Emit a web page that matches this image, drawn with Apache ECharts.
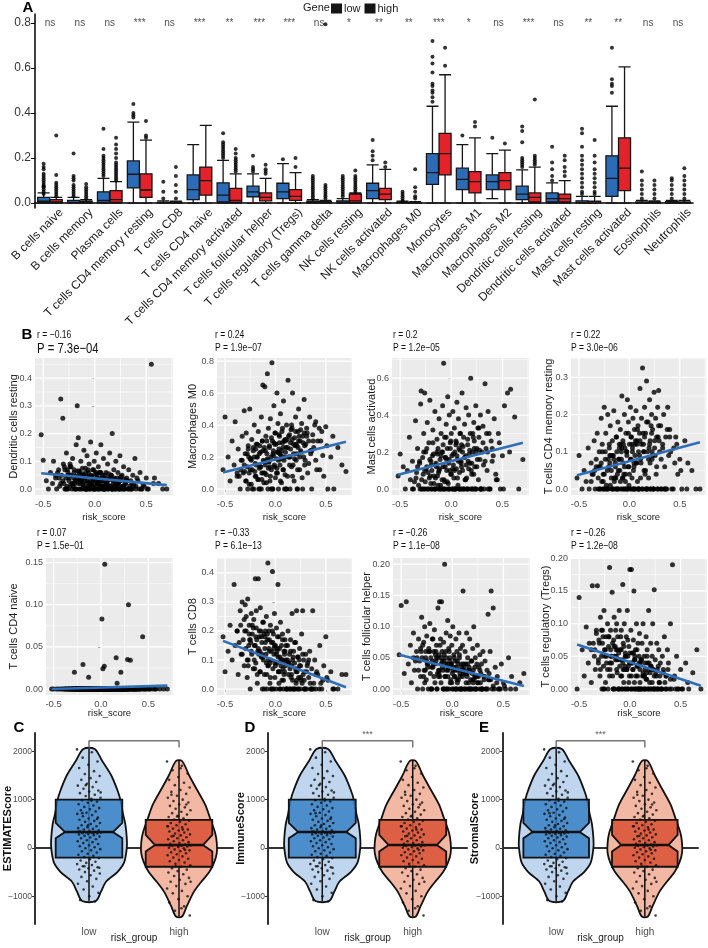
<!DOCTYPE html>
<html lang="en">
<head>
<meta charset="UTF-8" />
<title>Immune cell infiltration</title>
<script src="https://cdn.jsdelivr.net/npm/echarts@6.0.0/dist/echarts.min.js"></script>
<style>
  html, body { margin: 0; padding: 0; background: #fff; }
  #chart { width: 708px; height: 948px; }
</style>
</head>
<body>
<div id="chart"></div>
<script>
// ---------- panel A : CIBERSORT fractions by risk group ----------
const cellTypes = ["B cells naive", "B cells memory", "Plasma cells", "T cells CD4 memory resting", "T cells CD8",
  "T cells CD4 naive", "T cells CD4 memory activated", "T cells follicular helper", "T cells regulatory (Tregs)",
  "T cells gamma delta", "NK cells resting", "NK cells activated", "Macrophages M0", "Monocytes", "Macrophages M1",
  "Macrophages M2", "Dendritic cells resting", "Dendritic cells activated", "Mast cells resting",
  "Mast cells activated", "Eosinophils", "Neutrophils"];
const sigLabels = ["ns", "ns", "ns", "***", "ns", "***", "**", "***", "***", "ns", "*", "**", "**", "***", "*", "ns",
  "***", "ns", "**", "**", "ns", "ns"];
// [min, Q1, median, Q3, max]
const lowBox = [[0, 0.002, 0.008, 0.025, 0.045], [0, 0, 0.003, 0.012, 0.025], [0, 0.003, 0.012, 0.05, 0.11],
  [0, 0.067, 0.128, 0.187, 0.36], [0, 0, 0, 0.003, 0.01], [0, 0.015, 0.06, 0.125, 0.26], [0, 0.005, 0.035, 0.09, 0.19],
  [0, 0.028, 0.05, 0.075, 0.13], [0, 0.02, 0.05, 0.088, 0.175], [0, 0, 0.002, 0.008, 0.015], [0, 0, 0.003, 0.01, 0.02],
  [0, 0.02, 0.055, 0.088, 0.17], [0, 0, 0, 0.003, 0.008], [0, 0.083, 0.135, 0.22, 0.43], [0, 0.06, 0.105, 0.155, 0.26],
  [0.02, 0.06, 0.095, 0.125, 0.22], [0, 0.015, 0.04, 0.075, 0.147], [0, 0.005, 0.02, 0.045, 0.09],
  [0, 0, 0.002, 0.01, 0.03], [0, 0.03, 0.11, 0.21, 0.43], [0, 0, 0.001, 0.005, 0.012], [0, 0, 0.002, 0.006, 0.012]];
const highBox = [[0, 0.001, 0.005, 0.015, 0.025], [0, 0, 0.002, 0.008, 0.015], [0, 0.003, 0.015, 0.055, 0.095],
  [0, 0.025, 0.058, 0.13, 0.28], [0, 0, 0, 0.003, 0.008], [0, 0.035, 0.1, 0.16, 0.345], [0, 0.003, 0.012, 0.065, 0.13],
  [0, 0.01, 0.025, 0.045, 0.11], [0, 0.012, 0.03, 0.06, 0.135], [0, 0, 0.001, 0.006, 0.012], [0, 0.002, 0.01, 0.04, 0.045],
  [0, 0.015, 0.04, 0.065, 0.15], [0, 0, 0, 0.002, 0.006], [0, 0.125, 0.22, 0.31, 0.57], [0, 0.045, 0.095, 0.14, 0.29],
  [0, 0.06, 0.1, 0.135, 0.235], [0, 0.005, 0.025, 0.045, 0.16], [0, 0.005, 0.02, 0.04, 0.1], [0, 0, 0.001, 0.008, 0.03],
  [0, 0.055, 0.155, 0.29, 0.605], [0, 0, 0.001, 0.004, 0.01], [0, 0, 0.002, 0.005, 0.012]];
const lowOutliers = [
  [0.04, 0.05, 0.06, 0.07, 0.075, 0.08, 0.09, 0.1, 0.11, 0.12, 0.13, 0.15, 0.16, 0.175],
  [0.03, 0.04, 0.05, 0.06, 0.07, 0.08, 0.1, 0.11, 0.12, 0.22],
  [0.12, 0.13, 0.14, 0.15, 0.16, 0.17, 0.18, 0.19, 0.2, 0.21, 0.24, 0.33],
  [0.38, 0.39, 0.4, 0.44], [0.02, 0.05, 0.095], [],
  [0.2, 0.21, 0.22, 0.23, 0.24, 0.25, 0.26, 0.27, 0.31], [0.14, 0.15, 0.16, 0.21], [0.195],
  [0.02, 0.03, 0.04, 0.05, 0.06, 0.07, 0.08, 0.09, 0.1, 0.11, 0.12],
  [0.03, 0.04, 0.05, 0.06, 0.07, 0.08, 0.09, 0.1, 0.11, 0.12],
  [0.19, 0.21, 0.23, 0.28], [0.01, 0.02, 0.03, 0.04, 0.05],
  [0.45, 0.47, 0.49, 0.5, 0.52, 0.53, 0.58, 0.62, 0.65, 0.72], [0.3], [0.29],
  [0.16, 0.17, 0.18, 0.19, 0.2, 0.27, 0.32, 0.34], [0.1, 0.12, 0.15, 0.18, 0.25],
  [0.04, 0.05, 0.07, 0.09, 0.11, 0.13, 0.15, 0.17, 0.19, 0.21, 0.25, 0.31, 0.33],
  [0.49, 0.52, 0.53, 0.55, 0.69], [0.02, 0.04, 0.06, 0.08, 0.1, 0.14], [0.02, 0.04, 0.06, 0.08, 0.1, 0.11]];
const highOutliers = [
  [0.03, 0.04, 0.05, 0.06, 0.07, 0.08, 0.09, 0.125, 0.3], [0.02, 0.03, 0.04, 0.05, 0.06, 0.07, 0.085],
  [0.1, 0.11, 0.12, 0.13, 0.14, 0.15, 0.16, 0.17, 0.18, 0.2, 0.22, 0.24, 0.26, 0.29],
  [0.29, 0.3, 0.365], [0.02, 0.05, 0.08, 0.12, 0.16], [],
  [0.14, 0.15, 0.16, 0.17, 0.18, 0.19, 0.2, 0.22, 0.24], [0.13, 0.14, 0.15, 0.17], [0.16, 0.2],
  [0.02, 0.03, 0.04, 0.05, 0.06, 0.07, 0.08, 0.795], [0.05, 0.06, 0.07, 0.08, 0.09, 0.1, 0.11, 0.12, 0.145],
  [0.16, 0.18], [0.02, 0.03, 0.05, 0.07, 0.15], [0.61, 0.69], [0.34, 0.36], [0.265],
  [0.17, 0.18, 0.19, 0.2, 0.21, 0.46], [0.12, 0.14, 0.16, 0.19, 0.21],
  [0.04, 0.05, 0.07, 0.09, 0.11, 0.13, 0.15, 0.18, 0.21, 0.28], [],
  [0.02, 0.04, 0.06, 0.08, 0.1], [0.02, 0.04, 0.06, 0.08, 0.1, 0.12, 0.155]];

// ---------- panel B : correlation with risk score (one value per sample) ----------
const riskScore = [-0.52, -0.50, -0.47, -0.45, -0.43, -0.41, -0.40, -0.38, -0.37, -0.35, -0.34, -0.33, -0.32, -0.31,
  -0.30, -0.295, -0.29, -0.28, -0.275, -0.27, -0.26, -0.255, -0.25, -0.24, -0.235, -0.23, -0.22, -0.215, -0.21, -0.20,
  -0.195, -0.19, -0.18, -0.175, -0.17, -0.16, -0.155, -0.15, -0.14, -0.135, -0.13, -0.125, -0.12, -0.115, -0.11, -0.105, -0.10,
  -0.095, -0.09, -0.085, -0.08, -0.075, -0.07, -0.065, -0.06, -0.055, -0.05, -0.045, -0.04, -0.035, -0.03, -0.025, -0.02,
  -0.015, -0.01, -0.005, 0, 0.005, 0.01, 0.015, 0.02, 0.025, 0.03, 0.035, 0.04, 0.045, 0.05, 0.055, 0.06, 0.065, 0.07,
  0.075, 0.08, 0.085, 0.09, 0.095, 0.10,
  0.105, 0.11, 0.12, 0.125, 0.13, 0.14, 0.145, 0.15, 0.16, 0.165, 0.17, 0.18, 0.185, 0.19, 0.20, 0.205, 0.21, 0.22, 0.225,
  0.23, 0.24, 0.245, 0.25, 0.26, 0.265, 0.27, 0.28, 0.285, 0.29, 0.30,
  0.31, 0.32, 0.33, 0.34, 0.35, 0.36, 0.37, 0.38, 0.39, 0.40, 0.42, 0.44, 0.46, 0.48, 0.50, 0.52, 0.55, 0.58, 0.62, 0.66, 0.70,
  -0.38, -0.33, -0.29, -0.27, -0.25, -0.23, -0.21, -0.2, -0.19, -0.18,
  -0.17, -0.16, -0.15, -0.14, -0.13, -0.12, -0.11, -0.1, -0.09, -0.08,
  -0.07, -0.06, -0.05, -0.04, -0.03, -0.02, -0.01, 0.0, 0.01, 0.02,
  0.03, 0.04, 0.05, 0.06, 0.07, 0.08, 0.09, 0.1, 0.11, 0.12,
  0.13, 0.14, 0.15, 0.16, 0.17, 0.18, 0.19, 0.2, 0.21, 0.22,
  0.23, 0.24, 0.25, 0.27, 0.29, 0.31, 0.33, 0.36, 0.4, 0.45,
  -0.36, -0.31, -0.28, -0.26, -0.24, -0.22, -0.205, -0.185, -0.165, -0.145,
  -0.125, -0.105, -0.085, -0.065, -0.045, -0.025, -0.005, 0.015, 0.035, 0.055,
  0.075, 0.095, 0.115, 0.135, 0.155, 0.175, 0.195, 0.215, 0.235, 0.255,
  0.275, 0.295, 0.315, 0.345, 0.375, 0.41, 0.435, 0.47, 0.51, 0.57,
  -0.345, -0.265, -0.195, -0.135, -0.075, -0.015, 0.045, 0.105, 0.165, 0.225,
  0.285, 0.355, -0.305, -0.245, -0.155, -0.055, 0.025, 0.085, 0.145, 0.205];
const dcResting = [0.196, 0.104, 0.03, 0.0, 0.06, 0.02, 0.1, 0.04, 0.0, 0.07, 0.01, 0.325, 0.05, 0.255,
  0.02, 0.08, 0.0, 0.04, 0.13, 0.01, 0.06, 0.0, 0.03, 0.09, 0.015, 0.05, 0.0, 0.11, 0.02, 0.07, 0.0, 0.045, 0.16, 0.03,
  0.30, 0.185, 0.0, 0.06, 0.02, 0.1, 0.035, 0.0, 0.075, 0.015, 0.05, 0.14, 0.0,
  0.03, 0.0, 0.06, 0.02, 0.12, 0.0, 0.045, 0.01, 0.09, 0.025, 0.0, 0.17, 0.05, 0.015, 0.0, 0.07, 0.035, 0.0, 0.1, 0.02,
  0.055, 0.0, 0.13, 0.01, 0.04, 0.0, 0.08, 0.025, 0.0, 0.06, 0.015, 0.16, 0.03, 0.0, 0.05, 0.01, 0.11, 0.0, 0.04, 0.02,
  0.0, 0.06, 0.02, 0.09, 0.0, 0.04, 0.13, 0.01, 0.05, 0.0, 0.2, 0.03, 0.07, 0.0, 0.015, 0.1, 0.0, 0.04, 0.06, 0.02,
  0.0, 0.12, 0.03, 0.0, 0.05, 0.01, 0.08, 0.0, 0.035, 0.02,
  0.04, 0.0, 0.07, 0.01, 0.03, 0.0, 0.05, 0.02, 0.11, 0.0, 0.03, 0.06, 0.0, 0.01, 0.04, 0.0, 0.45, 0.04, 0.02, 0.0, 0.0,
  0.05, 0.02, 0.07, 0.0, 0.04, 0.08, 0.01, 0.06, 0.03, 0.0,
  0.045, 0.02, 0.065, 0.0, 0.03, 0.055, 0.01, 0.04, 0.075, 0.0,
  0.03, 0.06, 0.0, 0.02, 0.045, 0.01, 0.07, 0.0, 0.035, 0.05,
  0.02, 0.0, 0.04, 0.06, 0.01, 0.03, 0.0, 0.05, 0.015, 0.025,
  0.0, 0.035, 0.01, 0.05, 0.0, 0.02, 0.04, 0.0, 0.03, 0.01,
  0.02, 0.0, 0.04, 0.01, 0.0, 0.03, 0.0, 0.02, 0.01, 0.0,
  0.06, 0.03, 0.0, 0.05, 0.08, 0.02, 0.04, 0.0, 0.065, 0.035,
  0.025, 0.05, 0.0, 0.07, 0.015, 0.04, 0.0, 0.06, 0.03, 0.01,
  0.04, 0.0, 0.025, 0.055, 0.01, 0.0, 0.035, 0.02, 0.0, 0.045,
  0.0, 0.02, 0.03, 0.0, 0.01, 0.04, 0.0, 0.015, 0.0, 0.02,
  0.04, 0.07, 0.02, 0.05, 0.0, 0.03, 0.06, 0.01, 0.0, 0.025,
  0.01, 0.0, 0.09, 0.05, 0.03, 0.045, 0.02, 0.0, 0.035, 0.015];
const macM0 = [0.12, 0.45, 0.2, 0.05, 0.3, 0.15, 0.42, 0.08, 0.25, 0.0, 0.18, 0.33, 0.1, 0.49,
  0.22, 0.05, 0.35, 0.14, 0.0, 0.27, 0.1, 0.5, 0.19, 0.03, 0.31, 0.12, 0.24, 0.0, 0.4, 0.16, 0.08, 0.28, 0.2, 0.06,
  0.36, 0.13, 0.0, 0.23, 0.45, 0.1, 0.3, 0.65, 0.18, 0.04, 0.26, 0.64, 0.15,
  0.33, 0.09, 0.22, 0.72, 0.0, 0.38, 0.17, 0.27, 0.05, 0.44, 0.2, 0.12, 0.79, 0.3, 0.0, 0.24, 0.52, 0.14, 0.35, 0.07,
  0.28, 0.19, 0.6, 0.1, 0.41, 0.0, 0.25, 0.33, 0.15, 0.47, 0.21, 0.04, 0.36, 0.29, 0.12, 0.55, 0.18, 0.0, 0.31, 0.23,
  0.26, 0.4, 0.08, 0.68, 0.2, 0.34, 0.0, 0.29, 0.14, 0.38, 0.6, 0.22, 0.05, 0.32, 0.45, 0.18, 0.27, 0.0, 0.36, 0.5,
  0.12, 0.3, 0.24, 0.41, 0.07, 0.33, 0.2, 0.56, 0.15, 0.28,
  0.38, 0.1, 0.3, 0.45, 0.22, 0.0, 0.34, 0.26, 0.4, 0.18, 0.3, 0.12, 0.36, 0.08, 0.39, 0.0, 0.2, 0.0, 0.26, 0.15, 0.11,
  0.1, 0.18, 0.05, 0.25, 0.12, 0.0, 0.2, 0.08, 0.15, 0.28,
  0.06, 0.22, 0.14, 0.0, 0.3, 0.1, 0.17, 0.24, 0.04, 0.19,
  0.13, 0.26, 0.08, 0.32, 0.0, 0.21, 0.15, 0.35, 0.1, 0.23,
  0.18, 0.29, 0.05, 0.24, 0.38, 0.12, 0.2, 0.3, 0.0, 0.26,
  0.33, 0.15, 0.25, 0.4, 0.08, 0.28, 0.19, 0.36, 0.22, 0.12,
  0.3, 0.2, 0.37, 0.0, 0.27, 0.33, 0.16, 0.24, 0.42, 0.3,
  0.08, 0.15, 0.22, 0.03, 0.18, 0.26, 0.11, 0.2, 0.0, 0.14,
  0.24, 0.1, 0.3, 0.17, 0.0, 0.22, 0.28, 0.13, 0.34, 0.19,
  0.26, 0.09, 0.31, 0.2, 0.37, 0.15, 0.27, 0.0, 0.33, 0.23,
  0.29, 0.18, 0.35, 0.24, 0.3, 0.12, 0.38, 0.21, 0.27, 0.33,
  0.12, 0.2, 0.25, 0.06, 0.18, 0.29, 0.22, 0.0, 0.31, 0.26,
  0.35, 0.24, 0.11, 0.19, 0.27, 0.14, 0.23, 0.3, 0.2, 0.28];
const mastActivated = [0.07, 0.19, 0.12, 0.0, 0.1, 0.28, 0.05, 0.15, 0.0, 0.37, 0.09, 0.22, 0.02, 0.14,
  0.46, 0.53, 0.0, 0.17, 0.08, 0.3, 0.52, 0.04, 0.2, 0.12, 0.36, 0.0, 0.25, 0.06, 0.48, 0.15, 0.0, 0.1, 0.32, 0.19,
  0.03, 0.42, 0.0, 0.13, 0.27, 0.07, 0.22, 0.0, 0.38, 0.11, 0.16, 0.02, 0.3,
  0.2, 0.0, 0.45, 0.12, 0.68, 0.05, 0.28, 0.17, 0.0, 0.35, 0.1, 0.22, 0.5, 0.03, 0.14, 0.4, 0.0, 0.25, 0.08, 0.3,
  0.18, 0.0, 0.42, 0.13, 0.06, 0.33, 0.2, 0.0, 0.26, 0.11, 0.47, 0.16, 0.02, 0.38, 0.22, 0.09, 0.3, 0.0, 0.15, 0.24,
  0.52, 0.1, 0.28, 0.0, 0.35, 0.18, 0.44, 0.06, 0.24, 0.0, 0.4, 0.14, 0.3, 0.6, 0.08, 0.2, 0.0, 0.36, 0.26, 0.12,
  0.45, 0.0, 0.22, 0.33, 0.05, 0.28, 0.16, 0.4, 0.0, 0.2,
  0.34, 0.0, 0.57, 0.22, 0.1, 0.42, 0.3, 0.0, 0.26, 0.15, 0.38, 0.05, 0.3, 0.0, 0.18, 0.45, 0.52, 0.54, 0.39, 0.0, 0.16,
  0.0, 0.12, 0.05, 0.2, 0.0, 0.09, 0.16, 0.03, 0.0, 0.25,
  0.07, 0.0, 0.14, 0.2, 0.02, 0.1, 0.0, 0.18, 0.05, 0.24,
  0.0, 0.12, 0.28, 0.04, 0.0, 0.16, 0.22, 0.08, 0.0, 0.19,
  0.1, 0.0, 0.25, 0.06, 0.15, 0.0, 0.3, 0.12, 0.2, 0.0,
  0.17, 0.05, 0.0, 0.27, 0.11, 0.21, 0.0, 0.14, 0.3, 0.08,
  0.0, 0.2, 0.12, 0.33, 0.0, 0.25, 0.15, 0.0, 0.22, 0.05,
  0.04, 0.15, 0.0, 0.1, 0.22, 0.0, 0.07, 0.18, 0.0, 0.12,
  0.09, 0.0, 0.2, 0.04, 0.16, 0.0, 0.26, 0.11, 0.0, 0.18,
  0.0, 0.14, 0.23, 0.05, 0.0, 0.19, 0.1, 0.28, 0.0, 0.16,
  0.21, 0.0, 0.13, 0.3, 0.0, 0.18, 0.08, 0.25, 0.0, 0.2,
  0.06, 0.0, 0.13, 0.19, 0.0, 0.1, 0.24, 0.0, 0.15, 0.22,
  0.0, 0.2, 0.0, 0.11, 0.06, 0.17, 0.0, 0.21, 0.13, 0.0];
const cd4MemResting = [0.03, 0.09, 0.0, 0.05, 0.02, 0.11, 0.0, 0.07, 0.04, 0.13, 0.0, 0.08, 0.15, 0.03,
  0.1, 0.0, 0.06, 0.19, 0.02, 0.12, 0.04, 0.0, 0.22, 0.08, 0.15, 0.01, 0.05, 0.2, 0.0, 0.11, 0.07, 0.17, 0.03, 0.0,
  0.13, 0.09, 0.21, 0.02, 0.06, 0.0, 0.14, 0.1, 0.04, 0.18, 0.0, 0.08, 0.12,
  0.05, 0.16, 0.0, 0.1, 0.25, 0.03, 0.13, 0.07, 0.0, 0.2, 0.11, 0.04, 0.15, 0.0, 0.09, 0.24, 0.06, 0.18, 0.01, 0.12,
  0.0, 0.22, 0.08, 0.14, 0.03, 0.1, 0.19, 0.0, 0.06, 0.16, 0.12, 0.0, 0.21, 0.07, 0.13, 0.02, 0.17, 0.1, 0.0, 0.15,
  0.27, 0.08, 0.19, 0.0, 0.325, 0.12, 0.05, 0.22, 0.15, 0.0, 0.29, 0.1, 0.18, 0.03, 0.24, 0.13, 0.0, 0.2, 0.08, 0.16,
  0.0, 0.26, 0.11, 0.19, 0.04, 0.14, 0.22, 0.0, 0.265, 0.1,
  0.17, 0.0, 0.12, 0.2, 0.06, 0.14, 0.0, 0.22, 0.09, 0.16, 0.0, 0.11, 0.14, 0.04, 0.08, 0.0, 0.13, 0.07, 0.05, 0.0, 0.0,
  0.02, 0.06, 0.0, 0.1, 0.04, 0.0, 0.08, 0.12, 0.01, 0.05,
  0.09, 0.0, 0.03, 0.07, 0.14, 0.0, 0.05, 0.11, 0.02, 0.08,
  0.0, 0.12, 0.06, 0.02, 0.1, 0.0, 0.15, 0.04, 0.08, 0.0,
  0.11, 0.05, 0.0, 0.13, 0.07, 0.16, 0.0, 0.09, 0.03, 0.12,
  0.0, 0.1, 0.14, 0.05, 0.18, 0.0, 0.08, 0.12, 0.0, 0.15,
  0.09, 0.0, 0.13, 0.06, 0.17, 0.0, 0.11, 0.0, 0.14, 0.07,
  0.04, 0.0, 0.07, 0.02, 0.1, 0.0, 0.06, 0.09, 0.0, 0.03,
  0.0, 0.08, 0.12, 0.03, 0.0, 0.1, 0.06, 0.14, 0.0, 0.09,
  0.12, 0.0, 0.07, 0.15, 0.04, 0.0, 0.11, 0.17, 0.0, 0.09,
  0.0, 0.13, 0.08, 0.0, 0.16, 0.1, 0.0, 0.12, 0.05, 0.0,
  0.05, 0.0, 0.09, 0.03, 0.11, 0.0, 0.07, 0.13, 0.0, 0.1,
  0.14, 0.0, 0.06, 0.0, 0.08, 0.04, 0.12, 0.0, 0.1, 0.07];
const cd4Naive = [0, 0, 0, 0, 0, 0, 0, 0, 0, 0, 0, 0, 0, 0,
  0, 0, 0, 0.02, 0, 0, 0, 0, 0, 0, 0, 0, 0, 0, 0, 0, 0, 0.029, 0, 0, 0, 0, 0, 0, 0, 0, 0.014, 0, 0, 0, 0, 0, 0,
  0, 0, 0, 0, 0, 0, 0, 0, 0, 0, 0, 0, 0, 0, 0, 0, 0, 0, 0, 0, 0, 0.083, 0, 0.024, 0, 0, 0.027, 0.148, 0, 0,
  0, 0, 0, 0, 0, 0, 0, 0, 0, 0,
  0, 0, 0, 0, 0, 0, 0, 0, 0.037, 0, 0.007, 0, 0, 0, 0, 0, 0.02, 0, 0, 0, 0, 0, 0, 0, 0, 0, 0.035, 0, 0.1, 0,
  0.034, 0, 0, 0, 0, 0, 0, 0, 0, 0, 0, 0.062, 0, 0, 0, 0, 0, 0, 0, 0, 0,
  0, 0, 0, 0, 0, 0, 0, 0, 0, 0,
  0, 0, 0, 0, 0, 0, 0, 0, 0, 0,
  0, 0, 0, 0, 0, 0, 0, 0, 0, 0,
  0, 0, 0, 0, 0, 0, 0, 0, 0, 0,
  0, 0, 0, 0, 0, 0, 0, 0, 0, 0,
  0, 0, 0, 0, 0, 0, 0, 0, 0, 0,
  0, 0, 0, 0, 0, 0, 0, 0, 0, 0,
  0, 0, 0, 0, 0, 0, 0, 0, 0, 0,
  0, 0, 0, 0, 0, 0, 0, 0, 0, 0,
  0, 0, 0, 0, 0, 0, 0, 0, 0, 0,
  0, 0, 0, 0, 0, 0, 0, 0, 0, 0,
  0, 0, 0, 0, 0, 0, 0, 0, 0, 0];
const cd8 = [0.18, 0.06, 0.13, 0.22, 0.1, 0.36, 0.15, 0.2, 0.05, 0.27, 0.12, 0.3, 0.17, 0.08,
  0.29, 0.14, 0.2, 0.04, 0.31, 0.1, 0.22, 0.17, 0.0, 0.26, 0.12, 0.19, 0.07, 0.24, 0.15, 0.38, 0.09, 0.21, 0.02, 0.13,
  0.38, 0.18, 0.06, 0.28, 0.11, 0.16, 0.0, 0.23, 0.1, 0.19, 0.05, 0.14, 0.2,
  0.12, 0.25, 0.0, 0.17, 0.434, 0.08, 0.2, 0.13, 0.02, 0.22, 0.1, 0.16, 0.0, 0.405, 0.07, 0.19, 0.12, 0.26, 0.04, 0.15,
  0.0, 0.21, 0.09, 0.14, 0.36, 0.06, 0.18, 0.0, 0.11, 0.23, 0.08, 0.15, 0.03, 0.19, 0.1, 0.0, 0.13, 0.06, 0.17, 0.09,
  0.15, 0.0, 0.1, 0.2, 0.05, 0.12, 0.0, 0.17, 0.08, 0.26, 0.03, 0.13, 0.0, 0.09, 0.16, 0.06, 0.27, 0.0, 0.11, 0.04,
  0.14, 0.0, 0.08, 0.19, 0.02, 0.27, 0.1, 0.0, 0.06, 0.12,
  0.0, 0.09, 0.04, 0.13, 0.0, 0.07, 0.27, 0.02, 0.1, 0.0, 0.05, 0.15, 0.0, 0.08, 0.18, 0.03, 0.06, 0.0, 0.0, 0.05, 0.05,
  0.2, 0.12, 0.25, 0.08, 0.17, 0.22, 0.1, 0.15, 0.27, 0.05,
  0.14, 0.2, 0.06, 0.18, 0.11, 0.23, 0.0, 0.16, 0.09, 0.19,
  0.1, 0.17, 0.04, 0.13, 0.2, 0.0, 0.15, 0.08, 0.12, 0.18,
  0.06, 0.14, 0.0, 0.1, 0.17, 0.03, 0.12, 0.08, 0.0, 0.15,
  0.09, 0.0, 0.13, 0.05, 0.1, 0.0, 0.16, 0.07, 0.03, 0.11,
  0.0, 0.08, 0.04, 0.12, 0.0, 0.06, 0.1, 0.0, 0.05, 0.02,
  0.16, 0.24, 0.1, 0.19, 0.13, 0.21, 0.07, 0.17, 0.12, 0.2,
  0.11, 0.18, 0.05, 0.14, 0.0, 0.16, 0.09, 0.13, 0.02, 0.1,
  0.07, 0.13, 0.0, 0.09, 0.04, 0.11, 0.0, 0.06, 0.1, 0.03,
  0.05, 0.0, 0.08, 0.02, 0.0, 0.06, 0.0, 0.03, 0.04, 0.0,
  0.22, 0.15, 0.18, 0.12, 0.08, 0.14, 0.06, 0.1, 0.0, 0.07,
  0.03, 0.0, 0.2, 0.16, 0.13, 0.09, 0.11, 0.05, 0.07, 0.02];
const tfh = [0.055, 0.134, 0.025, 0.14, 0.04, 0.07, 0.01, 0.09, 0.03, 0.06, 0.0, 0.08, 0.045, 0.02,
  0.115, 0.05, 0.0, 0.075, 0.03, 0.1, 0.06, 0.015, 0.085, 0.04, 0.0, 0.065, 0.105, 0.025, 0.05, 0.0, 0.08, 0.035, 0.06,
  0.095, 0.01, 0.045, 0.07, 0.0, 0.13, 0.03, 0.055, 0.14, 0.02, 0.08, 0.04, 0.14, 0.06,
  0.035, 0.0, 0.075, 0.045, 0.2, 0.02, 0.06, 0.09, 0.0, 0.04, 0.11, 0.03, 0.065, 0.0, 0.05, 0.085, 0.015, 0.04, 0.07, 0.0,
  0.1, 0.03, 0.055, 0.02, 0.045, 0.0, 0.08, 0.035, 0.06, 0.01, 0.04, 0.0, 0.09, 0.05, 0.025, 0.065, 0.0, 0.04, 0.03, 0.07,
  0.157, 0.03, 0.0, 0.06, 0.04, 0.09, 0.02, 0.05, 0.0, 0.035, 0.08, 0.015, 0.045, 0.0, 0.065, 0.03, 0.1, 0.02, 0.05, 0.0,
  0.04, 0.07, 0.01, 0.035, 0.0, 0.055, 0.025, 0.04, 0.0, 0.06,
  0.02, 0.045, 0.0, 0.03, 0.12, 0.015, 0.06, 0.157, 0.0, 0.13, 0.035, 0.02, 0.0, 0.04, 0.01, 0.0, 0.05, 0.02, 0.0, 0.01, 0.025,
  0.05, 0.03, 0.07, 0.01, 0.045, 0.06, 0.0, 0.035, 0.08, 0.02,
  0.04, 0.06, 0.0, 0.05, 0.025, 0.07, 0.01, 0.045, 0.03, 0.055,
  0.02, 0.05, 0.0, 0.035, 0.06, 0.01, 0.04, 0.025, 0.0, 0.05,
  0.03, 0.0, 0.045, 0.015, 0.055, 0.0, 0.035, 0.02, 0.04, 0.0,
  0.025, 0.0, 0.04, 0.01, 0.03, 0.0, 0.045, 0.015, 0.0, 0.035,
  0.0, 0.02, 0.01, 0.03, 0.0, 0.015, 0.0, 0.025, 0.005, 0.0,
  0.045, 0.065, 0.02, 0.05, 0.035, 0.06, 0.0, 0.04, 0.055, 0.025,
  0.03, 0.05, 0.0, 0.04, 0.02, 0.045, 0.01, 0.035, 0.0, 0.03,
  0.02, 0.0, 0.035, 0.01, 0.03, 0.0, 0.025, 0.015, 0.0, 0.02,
  0.01, 0.0, 0.02, 0.0, 0.015, 0.0, 0.01, 0.0, 0.005, 0.0,
  0.05, 0.03, 0.045, 0.02, 0.0, 0.035, 0.015, 0.025, 0.0, 0.02,
  0.0, 0.015, 0.06, 0.04, 0.05, 0.03, 0.02, 0.0, 0.025, 0.01];
const tregs = [0.0, 0.14, 0.06, 0.02, 0.095, 0.04, 0.07, 0.01, 0.158, 0.05, 0.03, 0.085, 0.158, 0.045,
  0.07, 0.02, 0.11, 0.05, 0.0, 0.09, 0.035, 0.12, 0.06, 0.01, 0.08, 0.04, 0.1, 0.0, 0.065, 0.186, 0.03, 0.09, 0.05,
  0.148, 0.02, 0.075, 0.11, 0.0, 0.045, 0.06, 0.1, 0.025, 0.08, 0.0, 0.055, 0.12, 0.035,
  0.06, 0.02, 0.09, 0.0, 0.045, 0.16, 0.07, 0.01, 0.1, 0.035, 0.055, 0.0, 0.08, 0.03, 0.12, 0.05, 0.0, 0.065, 0.02, 0.183,
  0.04, 0.09, 0.183, 0.0, 0.055, 0.03, 0.075, 0.15, 0.01, 0.045, 0.06, 0.0, 0.1, 0.035, 0.02, 0.07, 0.0, 0.05, 0.085, 0.03,
  0.04, 0.0, 0.07, 0.02, 0.1, 0.05, 0.0, 0.03, 0.08, 0.015, 0.06, 0.0, 0.12, 0.04, 0.025, 0.07, 0.0, 0.05, 0.1, 0.03,
  0.152, 0.0, 0.045, 0.02, 0.07, 0.0, 0.035, 0.06, 0.01, 0.04,
  0.0, 0.05, 0.03, 0.08, 0.0, 0.02, 0.06, 0.04, 0.0, 0.1, 0.19, 0.02, 0.05, 0.0, 0.03, 0.0, 0.04, 0.0, 0.025, 0.06, 0.0,
  0.06, 0.09, 0.03, 0.07, 0.0, 0.05, 0.08, 0.02, 0.06, 0.04,
  0.07, 0.0, 0.05, 0.09, 0.03, 0.06, 0.0, 0.045, 0.08, 0.02,
  0.04, 0.065, 0.0, 0.05, 0.03, 0.075, 0.01, 0.055, 0.0, 0.04,
  0.03, 0.0, 0.05, 0.02, 0.06, 0.0, 0.04, 0.01, 0.045, 0.0,
  0.025, 0.0, 0.04, 0.015, 0.05, 0.0, 0.03, 0.0, 0.035, 0.01,
  0.0, 0.02, 0.0, 0.03, 0.01, 0.0, 0.025, 0.0, 0.015, 0.0,
  0.07, 0.04, 0.09, 0.0, 0.06, 0.03, 0.08, 0.05, 0.0, 0.065,
  0.045, 0.0, 0.06, 0.03, 0.05, 0.0, 0.04, 0.02, 0.055, 0.0,
  0.035, 0.0, 0.045, 0.02, 0.0, 0.04, 0.01, 0.03, 0.0, 0.025,
  0.0, 0.02, 0.0, 0.01, 0.03, 0.0, 0.015, 0.0, 0.0, 0.01,
  0.06, 0.08, 0.04, 0.05, 0.0, 0.035, 0.045, 0.0, 0.025, 0.03,
  0.0, 0.02, 0.075, 0.05, 0.065, 0.03, 0.04, 0.0, 0.02, 0.035];
const corrNames = ["Dendritic cells resting", "Macrophages M0", "Mast cells activated", "T cells CD4 memory resting",
  "T cells CD4 naive", "T cells CD8", "T cells follicular helper", "T cells regulatory (Tregs)"];
const corrValues = [dcResting, macM0, mastActivated, cd4MemResting, cd4Naive, cd8, tfh, tregs];
const corrR = ["\u22120.16", "0.24", "0.2", "0.22", "0.07", "\u22120.33", "\u22120.26", "\u22120.26"];
const corrP = ["7.3e\u221204", "1.9e\u221207", "1.2e\u221205", "3.0e\u221206", "1.5e\u221201", "6.1e\u221213", "1.1e\u221208", "1.2e\u221208"];
// fitted line at risk_score = -0.52 and 0.70
const fitEnds = [[0.057, 0.014], [0.104, 0.296], [0.077, 0.25], [0.037, 0.126], [0.0, 0.004], [0.166, 0.006],
  [0.055, 0.005], [0.068, 0.005]];
const corrYTicks = [[0, 0.1, 0.2, 0.3, 0.4], [0, 0.2, 0.4, 0.6, 0.8], [0, 0.2, 0.4, 0.6], [0, 0.1, 0.2, 0.3],
  [0, 0.05, 0.1, 0.15], [0, 0.1, 0.2, 0.3, 0.4], [0, 0.05, 0.1, 0.15, 0.2], [0, 0.05, 0.1, 0.15, 0.2]];
const corrYMax = [0.4725, 0.819, 0.709, 0.352, 0.1554, 0.4515, 0.21, 0.2005];
const xTicksB = [-0.5, 0, 0.5];

// ---------- panels C-E : ESTIMATE scores by risk group ----------
const riskGroups = ["low", "high"];
const scoreLow = [2040, 1980, 1870, 1790, 1720, 1655, 1590, 1530, 1490, 1445, 1410, 1365, 1330, 1290, 1260, 1225, 1190,
  1170, 1135, 1100, 1075, 1040, 1015, 990, 960, 935, 905, 880, 850, 825, 800, 780, 755, 730, 705, 680, 655, 630, 610, 585,
  560, 540, 515, 495, 470, 450, 430, 410, 395, 380, 365, 350, 340, 330, 325, 318, 312, 305, 298, 290, 280, 265, 250, 235,
  215, 200, 180, 160, 140, 120, 100, 80, 55, 35, 15, -5, -25, -50, -70, -95, -120, -140, -165, -190, -210, -235, -260,
  -285, -310, -335, -355, -380, -400, -420, -445, -470, -500, -530, -565, -600, -640, -690, -740, -800, -860, -930, -1000,
  -1080, -1110, 1300, 1150, 980, 720, 600, 470, 340, 310, -380, -410];
const scoreHigh = [1790, 1700, 1610, 1540, 1470, 1410, 1350, 1300, 1250, 1200, 1160, 1120, 1080, 1040, 1000, 970, 940,
  905, 870, 840, 810, 780, 750, 720, 690, 665, 640, 615, 590, 565, 540, 515, 490, 470, 450, 425, 400, 380, 360, 340, 320,
  300, 280, 260, 240, 220, 200, 180, 160, 140, 120, 100, 85, 70, 60, 52, 46, 40, 30, 20, 5, -10, -30, -50, -70, -90,
  -110, -130, -150, -175, -200, -225, -250, -275, -300, -330, -360, -390, -420, -450, -480, -510, -545, -580, -620, -660,
  -700, -745, -790, -840, -890, -940, -1000, -1060, -1130, -1210, -1300, -1400, 1650, 1100, 900, 650, 450, 380, 250, 65,
  55, 48, -40, -380, -700, -1250];
// [score, relative density]
const violinLow = [[-1100, 0.18], [-900, 0.32], [-700, 0.45], [-500, 0.75], [-300, 0.93], [0, 1.0], [200, 1.0],
  [500, 0.96], [700, 0.9], [1000, 0.83], [1200, 0.75], [1500, 0.59], [1800, 0.35], [2050, 0.15]];
const violinHigh = [[-1420, 0.08], [-1200, 0.21], [-900, 0.4], [-700, 0.59], [-500, 0.8], [-300, 0.93], [-100, 1.0],
  [100, 1.0], [300, 0.96], [600, 0.83], [900, 0.69], [1200, 0.48], [1500, 0.27], [1800, 0.08]];
// [min, Q1, notch low, median, notch high, Q3, max]
const boxLow = [-1100, -200, 200, 330, 520, 1000, 2050];
const boxHigh = [-1420, -390, -75, 60, 270, 580, 1800];
const scorePanels = ["ESTIMATEScore", "ImmuneScore", "StromalScore"];
const scoreSig = ["", "***", "***"];

// ---------- build ----------
const FONT = "'Liberation Sans', Arial, sans-serif";
const BLUE = '#2C6CB6', RED = '#E42229', FIT = '#2F6EB8';

const grids = [], xAxes = [], yAxes = [], series = [], graphics = [];

function letter(t, x, y) {
  graphics.push({ type: 'text', x: x, y: y, style: { text: t, font: 'bold 15px ' + FONT, fill: '#000', align: 'center', verticalAlign: 'middle' } });
}
// the source figure is horizontally squeezed, so free text is narrowed a little
function note(t, x, y, size) {
  graphics.push({ type: 'text', x: x, y: y, scaleX: 0.78, style: { text: t, font: size + 'px ' + FONT, fill: '#111', verticalAlign: 'middle' } });
}

// panel A
grids.push({ left: 35, top: 14, width: 658, height: 194, containLabel: false, outerBoundsMode: 'none' });
xAxes.push({
  type: 'category', gridIndex: 0, data: cellTypes,
  axisLine: { lineStyle: { color: '#000', width: 1.5 } },
  axisTick: { alignWithLabel: true, length: 4, lineStyle: { color: '#000' } },
  axisLabel: { rotate: 45, interval: 0, fontSize: 12, color: '#1a1a1a', fontFamily: FONT, margin: 4, verticalAlign: 'top', padding: [1, -9, 0, 0] }
});
yAxes.push({
  type: 'value', gridIndex: 0, min: -0.022, max: 0.84, splitLine: { show: false },
  axisLine: { show: true, lineStyle: { color: '#000', width: 1.5 } },
  axisTick: { show: true, length: 4, customValues: [0, 0.2, 0.4, 0.6, 0.8], lineStyle: { color: '#000' } },
  axisLabel: { customValues: [0, 0.2, 0.4, 0.6, 0.8], formatter: v => v.toFixed(1), fontSize: 12, color: '#333', fontFamily: FONT, margin: 4 }
});
function flatOutliers(list) {
  const d = [];
  list.forEach((vals, i) => vals.forEach(v => d.push([i, v])));
  return d;
}
[['low', lowBox, lowOutliers, BLUE, -6.3], ['high', highBox, highOutliers, RED, 6.3]].forEach(([name, box, outs, col, off]) => {
  series.push({
    name: name, type: 'boxplot', xAxisIndex: 0, yAxisIndex: 0, data: box, boxWidth: [12, 12],
    itemStyle: { color: col, borderColor: '#151515', borderWidth: 1.3 }, z: 3
  });
  series.push({
    name: name + ' outliers', type: 'scatter', xAxisIndex: 0, yAxisIndex: 0, data: flatOutliers(outs),
    symbolSize: 4, symbolOffset: [off, 0], itemStyle: { color: '#000' }, z: 4, silent: true
  });
});
series.push({
  type: 'scatter', xAxisIndex: 0, yAxisIndex: 0, symbolSize: 1, itemStyle: { color: 'rgba(0,0,0,0)' }, silent: true,
  data: sigLabels.map((s, i) => ({ value: [i, 0.8], label: { formatter: s } })),
  label: { show: true, position: 'inside', fontSize: 10, color: '#222', fontFamily: FONT }
});
letter('A', 28, 8);
graphics.push({ type: 'text', x: 303, y: 8, style: { text: 'Gene', font: '11px ' + FONT, fill: '#222', verticalAlign: 'middle' } });

// panel B
const bLayout = [[35, 358, 138], [217, 358, 135], [392, 358, 137], [571, 358, 135],
  [46, 558, 127], [217, 558, 135], [393, 558, 137], [571, 558, 136]];
const yNameGap = [16, 19, 15, 17, 27, 19, 21, 20];
const X_MIN = -0.58, X_MAX = 0.76, X_FIT = [-0.52, 0.70];
corrValues.forEach((vals, k) => {
  const gi = 1 + k;
  const [left, top, width] = bLayout[k];
  const ticks = corrYTicks[k];
  const yMax = corrYMax[k];
  const yMin = -yMax / 22;
  const dec = ticks[1] < 0.1 ? 2 : 1;
  grids.push({ left: left, top: top, width: width, height: 137, show: true, backgroundColor: '#EBEBEB', borderWidth: 0, containLabel: false, outerBoundsMode: 'none' });
  xAxes.push({
    type: 'value', gridIndex: gi, min: X_MIN, max: X_MAX, splitLine: { show: false },
    axisLine: { show: false }, axisTick: { show: true, length: 3, customValues: xTicksB, lineStyle: { color: '#444' } },
    axisLabel: { customValues: xTicksB, formatter: v => v.toFixed(1), fontSize: 9.5, color: '#4d4d4d', fontFamily: FONT, margin: 4 },
    name: 'risk_score', nameLocation: 'middle', nameGap: k < 4 ? 17 : 13, nameMoveOverlap: false,
    nameTextStyle: { fontSize: 9.5, color: '#1a1a1a', fontFamily: FONT }
  });
  yAxes.push({
    type: 'value', gridIndex: gi, min: yMin, max: yMax, splitLine: { show: false },
    axisLine: { show: false }, axisTick: { show: true, length: 3, customValues: ticks, lineStyle: { color: '#444' } },
    axisLabel: { customValues: ticks, formatter: v => v.toFixed(dec), fontSize: 9, color: '#4d4d4d', fontFamily: FONT, margin: 3 },
    name: corrNames[k], nameLocation: 'middle', nameGap: yNameGap[k], nameMoveOverlap: false,
    nameTextStyle: { fontSize: 11, color: '#1a1a1a', fontFamily: FONT }
  });
  // ggplot-style white grid (major + minor)
  const lines = [];
  xTicksB.forEach(v => lines.push([0, v, 1.3]));
  [-0.25, 0.25, 0.75].forEach(v => lines.push([0, v, 0.6]));
  const step = ticks[1];
  ticks.forEach(v => lines.push([1, v, 1.3]));
  ticks.forEach(v => { if (v + step / 2 < yMax) lines.push([1, v + step / 2, 0.6]); });
  series.push({
    type: 'custom', xAxisIndex: gi, yAxisIndex: gi, silent: true, z: 1, data: lines,
    renderItem: (params, api) => {
      const d = lines[params.dataIndex];
      const p1 = d[0] === 0 ? api.coord([d[1], yMin]) : api.coord([X_MIN, d[1]]);
      const p2 = d[0] === 0 ? api.coord([d[1], yMax]) : api.coord([X_MAX, d[1]]);
      return { type: 'line', shape: { x1: p1[0], y1: p1[1], x2: p2[0], y2: p2[1] }, style: { stroke: '#fff', lineWidth: d[2] } };
    }
  });
  series.push({
    type: 'scatter', xAxisIndex: gi, yAxisIndex: gi, silent: true, z: 3, symbolSize: 5,
    itemStyle: { color: '#000' }, data: riskScore.map((x, i) => [x, vals[i]]).filter(p => p[1] !== undefined)
  });
  series.push({
    type: 'line', xAxisIndex: gi, yAxisIndex: gi, silent: true, z: 4, symbol: 'none',
    lineStyle: { color: FIT, width: 2.6 }, data: [[X_FIT[0], fitEnds[k][0]], [X_FIT[1], fitEnds[k][1]]]
  });
  const tx = [37, 215, 393, 571][k % 4];
  const ty = k < 4 ? 335 : 533;
  note('r = ' + corrR[k], tx, ty, 11);
  note('P = ' + corrP[k], tx, ty + (k === 0 ? 14 : 13), k === 0 ? 14.5 : 11);
});
letter('B', 27, 335);

// panels C-E
const VIOLIN_HALF = 0.42, BOX_HALF = 0.37, NOTCH_IN = 0.72;
const groupStyle = [
  { pos: 1, profile: violinLow, box: boxLow, scores: scoreLow, violinFill: '#BFD6EE', boxFill: 'rgba(50,124,196,0.82)' },
  { pos: 2, profile: violinHigh, box: boxHigh, scores: scoreHigh, violinFill: '#F3B8A3', boxFill: 'rgba(216,80,52,0.85)' }
];
const cLayout = [[35, 198], [268, 199], [503, 195]];
const cNameGap = [22, 22, 23];
scorePanels.forEach((title, k) => {
  const gi = 9 + k;
  grids.push({ left: cLayout[k][0], top: 733, width: cLayout[k][1], height: 191, containLabel: false, outerBoundsMode: 'none' });
  xAxes.push({
    type: 'value', gridIndex: gi, min: 0.4, max: 2.6, splitLine: { show: false },
    axisLine: { lineStyle: { color: '#333', width: 2 } },
    axisTick: { show: true, length: 3, customValues: [1, 2], lineStyle: { color: '#333' } },
    axisLabel: { customValues: [1, 2], formatter: v => riskGroups[Math.round(v) - 1], fontSize: 10, color: '#4d4d4d', fontFamily: FONT, margin: 3 },
    name: 'risk_group', nameLocation: 'middle', nameGap: 9, nameMoveOverlap: false,
    nameTextStyle: { fontSize: 10, color: '#1a1a1a', fontFamily: FONT }
  });
  yAxes.push({
    type: 'value', gridIndex: gi, min: -1575, max: 2380, splitLine: { show: false },
    axisLine: { show: true, lineStyle: { color: '#333', width: 2 } },
    axisTick: { show: true, length: 3, customValues: [-1000, 0, 1000, 2000], lineStyle: { color: '#333' } },
    axisLabel: { customValues: [-1000, 0, 1000, 2000], formatter: v => (v < 0 ? '\u2212' + Math.abs(v) : String(v)), fontSize: 8.5, color: '#4d4d4d', fontFamily: FONT, margin: 3 },
    name: title, nameLocation: 'middle', nameGap: cNameGap[k], nameMoveOverlap: false,
    nameTextStyle: { fontSize: 11, fontWeight: 'bold', color: '#111', fontFamily: FONT }
  });
  series.push({
    type: 'custom', xAxisIndex: gi, yAxisIndex: gi, silent: true, z: 2,
    data: groupStyle.map(g => [g.pos, g.box[3]]),
    renderItem: (params, api) => {
      const g = groupStyle[params.dataIndex];
      const c = (x, v) => api.coord([x, v]);
      const right = g.profile.map(([v, d]) => c(g.pos + d * VIOLIN_HALF, v));
      const left = g.profile.slice().reverse().map(([v, d]) => c(g.pos - d * VIOLIN_HALF, v));
      const [mn, q1, nLo, md, nHi, q3, mx] = g.box;
      const L = g.pos - BOX_HALF, R = g.pos + BOX_HALF;
      const Li = g.pos - BOX_HALF * NOTCH_IN, Ri = g.pos + BOX_HALF * NOTCH_IN;
      const boxPts = [c(L, q3), c(R, q3), c(R, nHi), c(Ri, md), c(R, nLo), c(R, q1), c(L, q1), c(L, nLo), c(Li, md), c(L, nHi)];
      const top = c(g.pos, mx), bot = c(g.pos, mn), mL = c(Li, md), mR = c(Ri, md);
      return {
        type: 'group', children: [
          { type: 'polygon', shape: { points: right.concat(left), smooth: 0.3 }, style: { fill: g.violinFill, stroke: '#111', lineWidth: 1.8 } },
          { type: 'line', shape: { x1: top[0], y1: top[1], x2: bot[0], y2: bot[1] }, style: { stroke: '#111', lineWidth: 1.5 } },
          { type: 'polygon', shape: { points: boxPts }, style: { fill: g.boxFill, stroke: '#111', lineWidth: 1.8 } },
          { type: 'line', shape: { x1: mL[0], y1: mL[1], x2: mR[0], y2: mR[1] }, style: { stroke: '#111', lineWidth: 2.5 } }
        ]
      };
    }
  });
  groupStyle.forEach(g => {
    series.push({
      type: 'scatter', xAxisIndex: gi, yAxisIndex: gi, silent: true, z: 3, symbolSize: 2.6, itemStyle: { color: '#111' },
      // horizontal jitter is only a display offset in pixels
      data: g.scores.map((v, i) => ({ value: [g.pos, v], symbolOffset: [(((i * 0.618034) % 1) - 0.5) * 24, 0] }))
    });
  });
  series.push({
    type: 'line', xAxisIndex: gi, yAxisIndex: gi, silent: true, z: 3, symbol: 'none',
    lineStyle: { color: '#777', width: 1.5 }, data: [[1, 2080], [1, 2220], [2, 2220], [2, 2080]]
  });
  if (scoreSig[k]) {
    series.push({
      type: 'scatter', xAxisIndex: gi, yAxisIndex: gi, silent: true, symbolSize: 1, itemStyle: { color: 'rgba(0,0,0,0)' },
      data: [[1.5, 2220]], label: { show: true, position: 'top', distance: 1, formatter: scoreSig[k], fontSize: 9, color: '#333' }
    });
  }
});
letter('C', 19, 728);
letter('D', 250, 728);
letter('E', 484, 728);

const chart = echarts.init(document.getElementById('chart'));
chart.setOption({
  animation: false,
  backgroundColor: '#fff',
  textStyle: { fontFamily: FONT },
  legend: {
    data: [{ name: 'low', icon: 'rect' }, { name: 'high', icon: 'rect' }],
    left: 331, top: 3, padding: 0, itemWidth: 9, itemHeight: 8, itemGap: 4, selectedMode: false,
    textStyle: { fontSize: 11, color: '#1a1a1a', fontFamily: FONT, padding: [0, 0, 0, -2] }
  },
  grid: grids,
  xAxis: xAxes,
  yAxis: yAxes,
  series: series,
  graphic: graphics
});
</script>
</body>
</html>
